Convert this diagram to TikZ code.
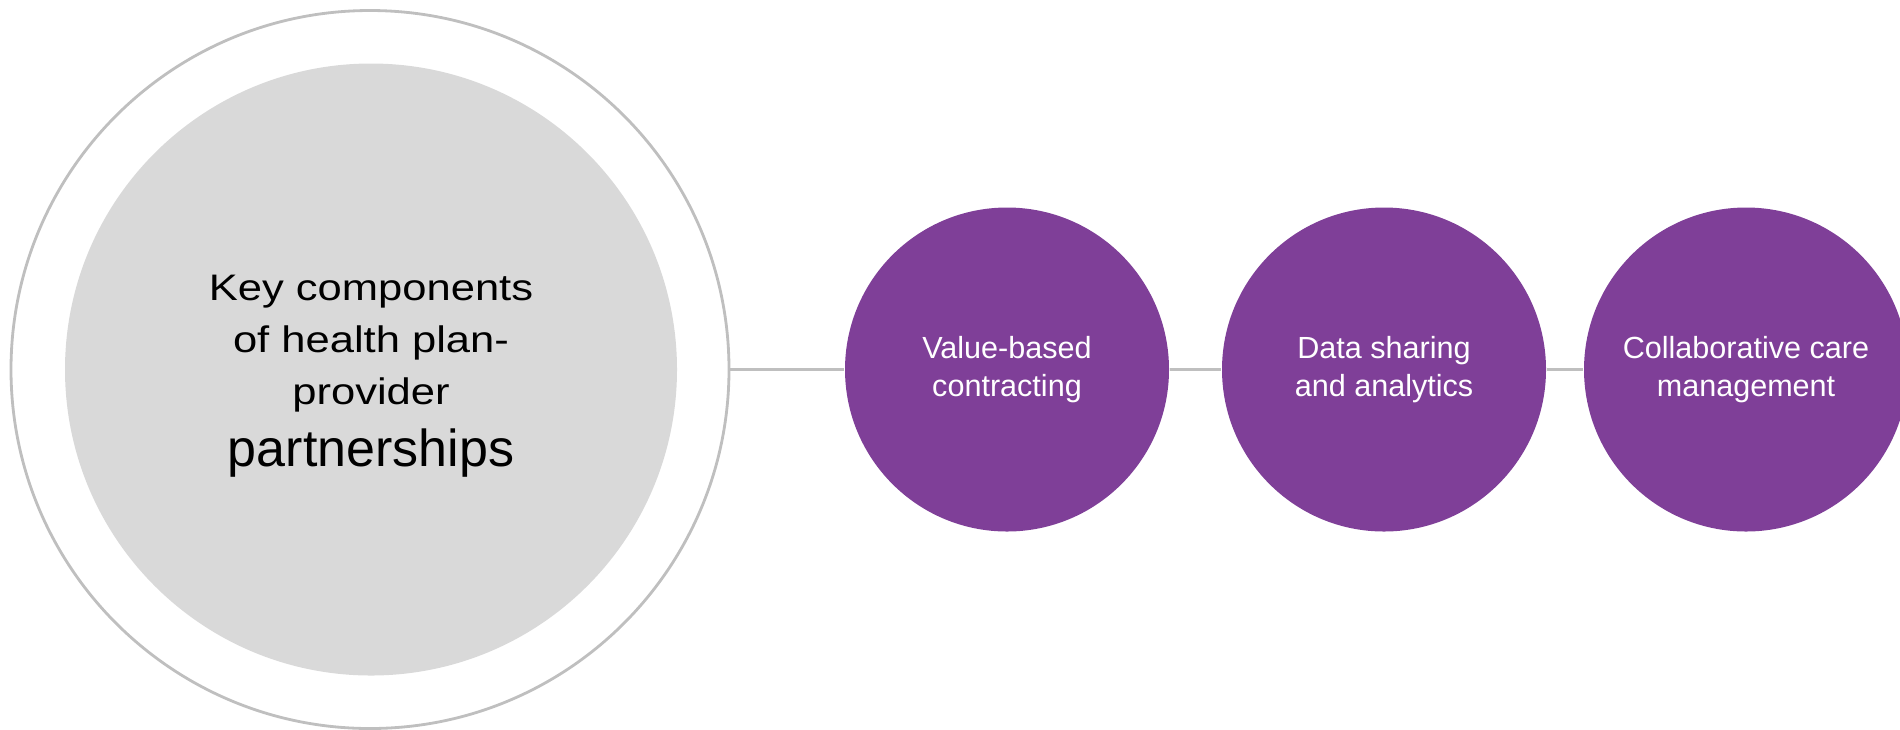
\documentclass[tikz,border=0pt]{standalone}
\usepackage{fontspec}
\setmainfont{Liberation Sans}
\newfontfamily\keyfont[FakeStretch=1.18]{Liberation Sans}
\definecolor{plum}{HTML}{7F3F98}
\definecolor{ringgray}{HTML}{BFBFBF}
\definecolor{discgray}{HTML}{D9D9D9}

\begin{document}
\begin{tikzpicture}[
  ring/.style={circle,draw=ringgray,line width=0.8pt,minimum size=7.18cm,inner sep=0},
  disc/.style={circle,fill=discgray,minimum size=6.12cm,inner sep=0},
  topic/.style={circle,fill=plum,minimum size=3.24cm,inner sep=0,text=white,align=center,font=\fontsize{8.7}{10.6}\selectfont},
  link/.style={draw=ringgray,line width=0.7pt}]
\useasboundingbox (0,-3.595) rectangle (19,3.695);
% Center circle
\node[ring] (outer) at (3.70,0) {};
\node[disc] (inner) at (3.71,0) {};
\node[align=center,inner sep=0,font=\keyfont\fontsize{10.5}{14.8}\selectfont] (title) at (3.71,-0.065) {Key components\\of health plan-\\provider\\[2.8pt]{\normalfont\fontsize{14.8}{14.8}\selectfont partnerships}};
% Components
\node[topic] (value) at (10.07,0) {Value-based\\contracting};
\node[topic] (data) at (13.84,0) {Data sharing\\and analytics};
\node[topic] (care) at (17.46,0) {Collaborative care\\management};
% Links
\draw[link] (outer) -- (value);
\draw[link] (value) -- (data);
\draw[link] (data) -- (care);
\end{tikzpicture}
\end{document}
